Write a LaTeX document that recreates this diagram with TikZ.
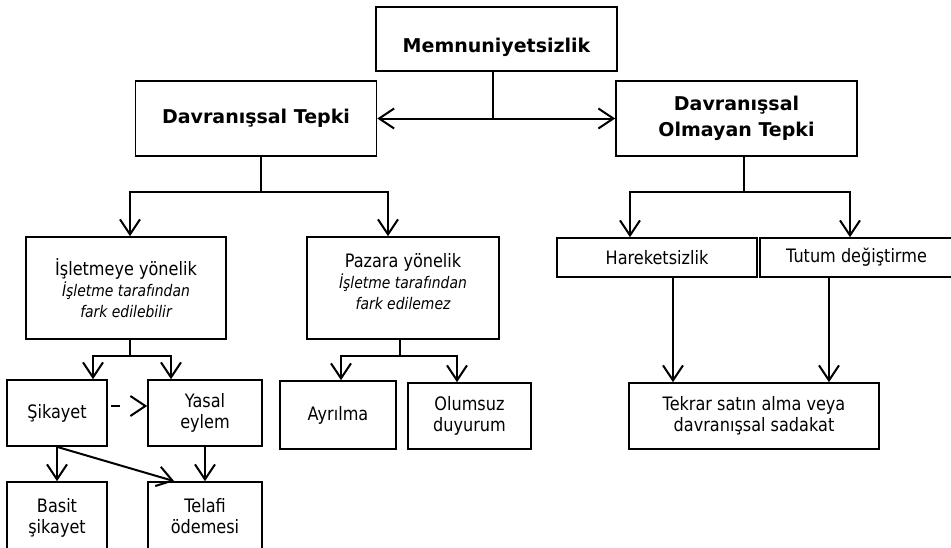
\documentclass[tikz,border=0pt]{standalone}
\usepackage{fontspec}
\setmainfont{DejaVu Sans}[UprightFeatures={FakeStretch=0.87}, ItalicFeatures={FakeStretch=0.87}]
\usetikzlibrary{arrows.meta}

\tikzset{
  box/.style={draw, line width=1.7pt, align=center, inner sep=2pt,
    font=\fontsize{18.5}{21}\selectfont},
  headbox/.style={box, font=\fontsize{19}{25.5}\selectfont\bfseries},
  line/.style={line width=2pt},
  conn/.style={line, -{Straight Barb[length=15pt,width=20pt]}},
  iki/.style={line, {Straight Barb[length=15pt,width=20pt]}-{Straight Barb[length=15pt,width=20pt]}}
}
\newcommand{\altyazi}[1]{{\fontsize{16}{20}\selectfont\itshape #1}}

\begin{document}
\begin{tikzpicture}[x=1pt, y=-1pt]
        \useasboundingbox (0,0) rectangle (951,547);

        % top level
        \node[headbox, minimum width=241pt, minimum height=64pt,
          text height=26pt, text depth=0pt] (memnun) at (496.5,39) {Memnuniyetsizlik};
        \node[headbox, minimum width=241pt, minimum height=75pt] (dtepki) at (256,118.5) {Davranışsal Tepki};
        \node[headbox, minimum width=241pt, minimum height=75pt] (dotepki) at (736.5,118.5) {Davranışsal\\Olmayan Tepki};

        % second level
        \node[box, minimum width=200pt, minimum height=102pt] (isletme) at (126,288)
          {İşletmeye yönelik\\\altyazi{İşletme tarafından}\\\altyazi{fark edilebilir}};
        \node[box, minimum width=192pt, minimum height=102pt, text depth=13pt] (pazara) at (403,288)
          {Pazara yönelik\\\altyazi{İşletme tarafından}\\\altyazi{fark edilemez}};
        \node[box, minimum width=200pt, minimum height=39pt] (hareket) at (657,257.5) {Hareketsizlik};
        \node[box, minimum width=193pt, minimum height=39pt] (tutum) at (856.5,257.5) {Tutum değiştirme};

        % third level
        \node[box, minimum width=100pt, minimum height=66pt] (sikayet) at (57,413) {Şikayet};
        \node[box, minimum width=114pt, minimum height=66pt] (yasal) at (205,413) {Yasal\\eylem};
        \node[box, minimum width=116pt, minimum height=68pt] (ayrilma) at (338,415) {Ayrılma};
        \node[box, minimum width=123pt, minimum height=66pt] (olumsuz) at (469.5,416) {Olumsuz\\duyurum};
        \node[box, minimum width=250pt, minimum height=66pt] (tekrar) at (754,416) {Tekrar satın alma veya\\davranışsal sadakat};

        % fourth level
        \node[box, minimum width=100pt, minimum height=68pt, text depth=0pt] (basit) at (57,516) {Basit\\şikayet};
        \node[box, minimum width=114pt, minimum height=68pt, text depth=0pt] (telafi) at (205,516) {Telafi\\ödemesi};

        % connectors
        \draw[line] (493,0 |- memnun.south) -- (493,0 |- dtepki.east);
        \draw[iki] (dtepki.east) -- (dotepki.west);

        \draw[conn] (261,0 |- dtepki.south) -- (261,192) -| (130,0 |- isletme.north);
        \draw[conn] (261,192) -| (388,0 |- pazara.north);
        \draw[conn] (744,0 |- dotepki.south) -- (744,192) -| (630,0 |- hareket.north);
        \draw[conn] (744,192) -| (850,0 |- tutum.north);

        \draw[conn] (130,0 |- isletme.south) -- (130,356) -| (93,0 |- sikayet.north);
        \draw[conn] (130,356) -| (171,0 |- yasal.north);
        \draw[conn] (400,0 |- pazara.south) -- (400,356) -| (341,0 |- ayrilma.north);
        \draw[conn] (400,356) -| (457,0 |- olumsuz.north);

        \draw[conn, dash pattern=on 9pt off 40pt, dash phase=46pt]
          ([yshift=7pt]sikayet.east) -- ([yshift=7pt]yasal.west);
        \draw[conn] (sikayet.south) -- (basit.north);
        \draw[conn] (sikayet.south) -- ([xshift=27pt]telafi.north west);
        \draw[conn] (yasal.south) -- (telafi.north);

        \draw[conn] (673,0 |- hareket.south) -- (673,0 |- tekrar.north);
        \draw[conn] (829,0 |- tutum.south) -- (829,0 |- tekrar.north);
\end{tikzpicture}
\end{document}
